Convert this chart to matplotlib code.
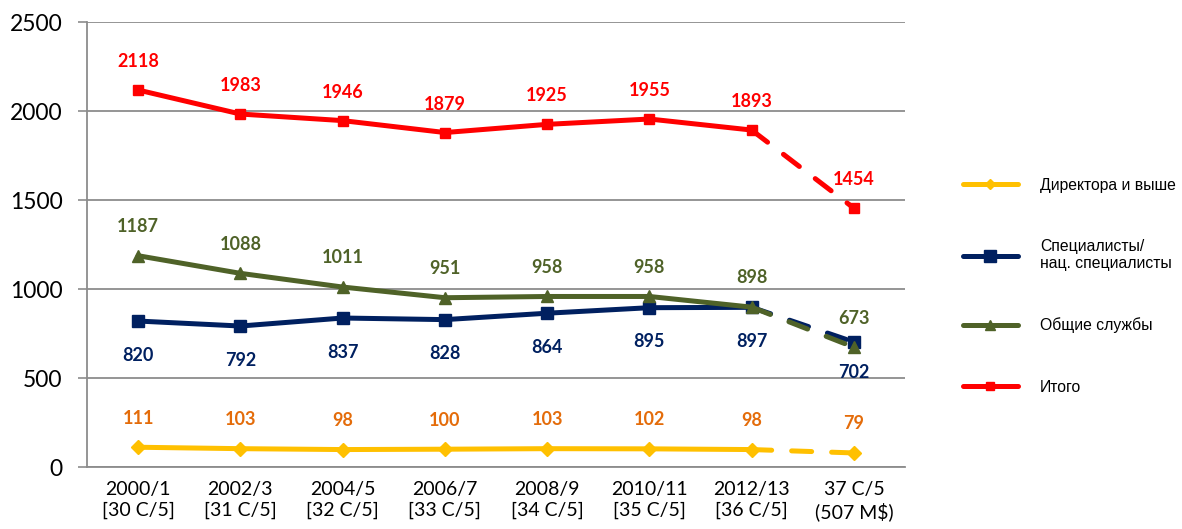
import matplotlib.pyplot as plt
from matplotlib.lines import Line2D

periods = [
    "2000/1\n[30 C/5]",
    "2002/3\n[31 C/5]",
    "2004/5\n[32 C/5]",
    "2006/7\n[33 C/5]",
    "2008/9\n[34 C/5]",
    "2010/11\n[35 C/5]",
    "2012/13\n[36 C/5]",
    "37 C/5\n(507 M\\$)",
]
directors = [111, 103, 98, 100, 103, 102, 98, 79]
specialists = [820, 792, 837, 828, 864, 895, 897, 702]
general = [1187, 1088, 1011, 951, 958, 958, 898, 673]
total = [2118, 1983, 1946, 1879, 1925, 1955, 1893, 1454]

series_names = [
    "Директора и выше",
    "Специалисты/\nнац. специалисты",
    "Общие службы",
    "Итого",
]

GRID = "#8c8c8c"


def draw_series(ax, values, color, marker, msize, label_color, offset, z):
    x = list(range(len(values)))
    ax.plot(x[:-1], values[:-1], color=color, lw=3.6, marker=marker,
            ms=msize, solid_capstyle="round", zorder=z)
    ax.plot(x[-2:], values[-2:], color=color, lw=3.6, ls=(0, (4, 4)),
            dash_capstyle="round", zorder=z)
    ax.plot(x[-1:], values[-1:], color=color, lw=0, marker=marker,
            ms=msize, zorder=z + 0.5)
    for i, v in enumerate(values):
        dy = offset[i] if isinstance(offset, list) else offset
        ax.annotate(str(v), xy=(i, v), xytext=(0, dy), textcoords="offset points",
                    ha="center", va="center", color=label_color,
                    fontsize=13, fontweight="bold", family="Lato")


fig = plt.figure(figsize=(11.82, 5.29), dpi=100)
ax = fig.add_axes([0.0736, 0.1172, 0.6921, 0.8412])

draw_series(ax, directors, "#FFC000", "D", 7, "#E46C0A", 21, 3)
draw_series(ax, specialists, "#002060", "s", 8, "#002060",
            [-24.5] * 7 + [-22], 4)
draw_series(ax, general, "#4F6228", "^", 9, "#4F6228", 21, 5)
draw_series(ax, total, "#FF0000", "s", 7, "#FF0000", 20.5, 6)

ax.set_xlim(-0.5, 7.5)
ax.set_ylim(0, 2500)
ax.set_yticks(range(0, 2501, 500))
ax.set_xticks(range(len(periods)))
ax.set_xticklabels(periods, family="Lato", fontsize=14, linespacing=1.25)
for lab in ax.get_yticklabels():
    lab.set_family("Lato")
    lab.set_fontsize(16.5)
ax.tick_params(axis="x", length=0, pad=10)
ax.tick_params(axis="y", length=6.5, width=1.2, color=GRID, pad=11)
ax.grid(axis="y", color=GRID, lw=1.3)
ax.set_axisbelow(True)
for side in ["top", "right"]:
    ax.spines[side].set_visible(False)
for side in ["left", "bottom"]:
    ax.spines[side].set_color(GRID)
    ax.spines[side].set_linewidth(1.3)

handles = [
    Line2D([], [], color="#FFC000", lw=3.6, marker="D", ms=5, solid_capstyle="round"),
    Line2D([], [], color="#002060", lw=3.6, marker="s", ms=8, solid_capstyle="round"),
    Line2D([], [], color="#4F6228", lw=3.6, marker="^", ms=7, solid_capstyle="round"),
    Line2D([], [], color="#FF0000", lw=3.6, marker="s", ms=6, solid_capstyle="round"),
]
fig.legend(handles, series_names, loc="center left",
           bbox_to_anchor=(0.8147, 0.459), frameon=False,
           prop={"family": "Liberation Sans", "size": 11.3},
           handlelength=3.5, handletextpad=1.4, labelspacing=2.95,
           borderpad=0, borderaxespad=0)

fig.savefig("out.png", dpi=100)
